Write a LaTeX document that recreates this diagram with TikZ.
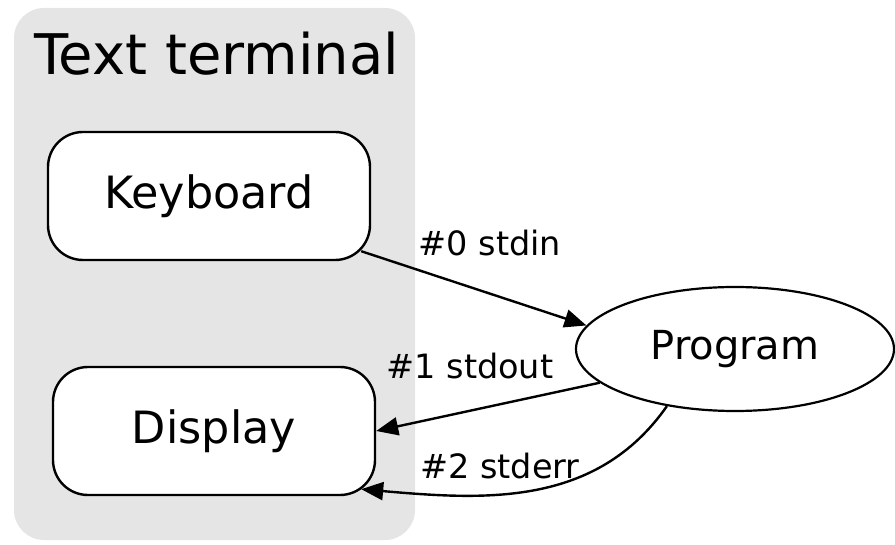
\documentclass[tikz,border=0pt]{standalone}
\usepackage{fontspec}
\setmainfont{DejaVu Sans}
\usetikzlibrary{arrows.meta,calc,shapes.geometric}
\definecolor{termgrey}{RGB}{229,229,229}
\tikzset{
  box/.style={draw=black, line width=2.4pt, rounded corners=35pt, fill=white, minimum width=322pt, minimum height=128pt, inner sep=0pt, font=\fontsize{44.5}{50}\selectfont},
  prog/.style={draw=black, line width=2.2pt, ellipse, fill=white, minimum width=318pt, minimum height=124pt, inner sep=0pt, font=\fontsize{40}{46}\selectfont},
  conn/.style={line width=2.4pt, -{Triangle[length=22pt,width=18pt]}},
  lbl/.style={font=\fontsize{33.5}{38}\selectfont, inner sep=0pt}
}
\begin{document}
\begin{tikzpicture}[x=1pt,y=1pt]
\useasboundingbox (0,0) rectangle (895,544);
\fill[termgrey, rounded corners=30pt] (14,4) rectangle (415,536);
\node[anchor=base west, font=\fontsize{56}{62}\selectfont, inner sep=0pt] (title) at (34,469) {Text terminal};
\node[box] (kb) at (209,348) {Keyboard};
\node[box] (disp) at (214,113) {Display};
\node[prog] (pg) at (735,195) {Program};
\coordinate (k0) at ($(kb.south east)+(-10pt,10pt)$);
\coordinate (d2) at ($(disp.south east)+(-15pt,7pt)$);
\draw[conn] (k0) -- (pg.171);
\draw[conn] (pg.194) -- (disp.east);
\draw[conn] (pg.220) to[out=235,in=-5] (d2);
\node[lbl] (l0) at (490,301) {\#0 stdin};
\node[lbl] (l1) at (470,178) {\#1 stdout};
\node[lbl] (l2) at (500,78) {\#2 stderr};
\end{tikzpicture}
\end{document}
